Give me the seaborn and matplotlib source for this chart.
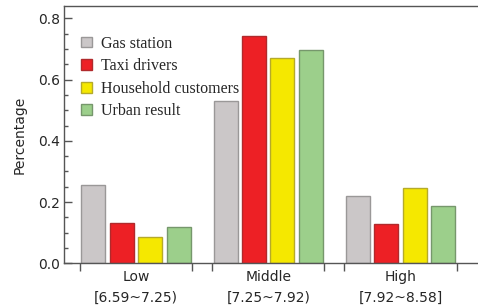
import matplotlib
matplotlib.use("Agg")
import matplotlib.pyplot as plt
from matplotlib.patches import Patch
from matplotlib.ticker import MultipleLocator, FixedLocator
import seaborn as sns
import pandas as pd

categories = ["Low", "Middle", "High"]
ranges = ["[6.59~7.25)", "[7.25~7.92)", "[7.92~8.58]"]
series = ["Gas station", "Taxi drivers", "Household customers", "Urban result"]
gas_station = [0.256, 0.529, 0.220]
taxi_drivers = [0.133, 0.743, 0.128]
household = [0.087, 0.670, 0.246]
urban = [0.118, 0.698, 0.187]

fills = ["#cbc7c8", "#ed2025", "#f5e800", "#9ccf8b"]
edges = ["#9a9898", "#b02a2c", "#b5aa2a", "#76976c"]

rows = []
for name, vals in zip(series, [gas_station, taxi_drivers, household, urban]):
    for c, v in zip(categories, vals):
        rows.append({"group": c, "series": name, "value": v})
df = pd.DataFrame(rows)

sns.set_style("ticks")
plt.rcParams["font.family"] = ["DejaVu Sans"]

fig = plt.figure(figsize=(4.78, 3.08), dpi=100)
ax = fig.add_axes([64.3 / 478, (308 - 263.4) / 308, (478 - 64.3) / 478, (263.4 - 6) / 308])

sns.barplot(data=df, x="group", y="value", hue="series", order=categories,
            hue_order=series, palette=fills, width=0.859, gap=0.155,
            legend=False, ax=ax, linewidth=1.0, saturation=1)

for cont, ec in zip(ax.containers, edges):
    for p in cont:
        p.set_edgecolor(ec)
        p.set_linewidth(1.0)

ax.set_xlim(-0.542, 2.586)
ax.set_ylim(0, 0.84)

spine_col = "#555555"
for s in ["left", "top", "bottom"]:
    ax.spines[s].set_color(spine_col)
    ax.spines[s].set_linewidth(1.0)
ax.spines["right"].set_visible(False)

ax.yaxis.set_major_locator(MultipleLocator(0.2))
ax.yaxis.set_minor_locator(MultipleLocator(0.05))
ax.tick_params(axis="y", which="major", direction="in", length=5.5, width=1,
               color=spine_col, labelsize=10, pad=3, right=False)
ax.tick_params(axis="y", which="minor", direction="in", length=3, width=1,
               color=spine_col, right=False)
ax.set_yticklabels([f"{v:.1f}" for v in ax.get_yticks()])

ax.set_xticks(range(len(categories)))
ax.set_xticklabels([f"{c}\n{r}" for c, r in zip(categories, ranges)])
ax.tick_params(axis="x", which="major", length=0, labelsize=10, pad=5, top=False)
for t in ax.get_xticklabels():
    t.set_linespacing(1.6)
ax.xaxis.set_minor_locator(FixedLocator([i + d for i in range(3) for d in (-0.425, 0.425)]))
ax.tick_params(axis="x", which="minor", direction="out", length=6, width=1,
               color=spine_col, top=False)

ax.set_xlabel("")
ax.set_ylabel("Percentage", fontsize=10, labelpad=8)

handles = [Patch(facecolor=f, edgecolor=e, linewidth=1.0) for f, e in zip(fills, edges)]
ax.legend(handles, series, loc="upper left", bbox_to_anchor=(0.04, 0.885),
          frameon=False, borderpad=0, borderaxespad=0, handlelength=0.68,
          handleheight=0.68, handletextpad=0.6, labelspacing=0.41,
          prop={"family": "Liberation Serif", "size": 11.5})

fig.savefig("out.png", dpi=100)
